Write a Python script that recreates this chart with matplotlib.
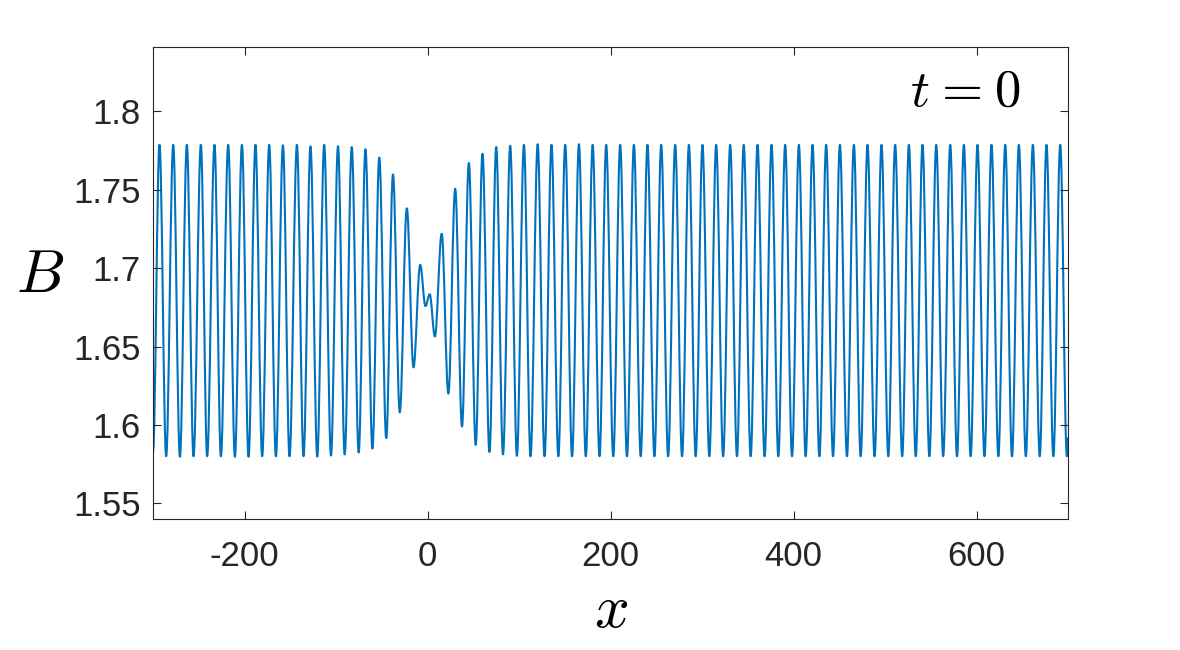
import matplotlib
matplotlib.use("Agg")
import matplotlib.pyplot as plt
from matplotlib.path import Path
from matplotlib.patches import PathPatch
import numpy as np

# ---- data (x, B) ----
x_start, B_start = -300.0, 1.583
x_end, B_end = 700.0, 1.592

x_peaks = [-292.9, -277.9, -263.0, -247.7, -232.8, -217.8, -202.8, -188.0, -173.0,
           -158.0, -142.7, -127.9, -112.9, -97.8, -82.8, -67.8, -52.7, -37.7, -22.6,
           -8.0, 2.4, 15.5, 30.3, 45.2, 60.1, 75.1, 90.4, 105.4, 120.4, 135.5, 150.5,
           165.5, 180.5, 195.3, 210.6, 225.6, 240.4, 255.4, 270.7, 285.7, 300.5, 315.5,
           330.8, 345.6, 360.7, 376.0, 390.9, 405.9, 420.8, 435.7, 450.7, 466.0, 480.9,
           496.2, 511.1, 526.1, 541.0, 556.0, 571.3, 586.2, 601.1, 616.4, 631.4, 646.3,
           661.6, 676.5, 691.5]
B_peaks = [1.7786, 1.7786, 1.7786, 1.7786, 1.7786, 1.7786, 1.7786, 1.7786, 1.7786,
           1.7783, 1.7786, 1.7776, 1.7786, 1.7777, 1.7772, 1.7758, 1.7705, 1.7597, 1.7381,
           1.7021, 1.6833, 1.7219, 1.7506, 1.7670, 1.7729, 1.7772, 1.7780, 1.7786, 1.7790,
           1.7786, 1.7786, 1.7790, 1.7786, 1.7786, 1.7786, 1.7786, 1.7786, 1.7786, 1.7786,
           1.7786, 1.7786, 1.7786, 1.7786, 1.7786, 1.7786, 1.7786, 1.7786, 1.7786, 1.7786,
           1.7786, 1.7786, 1.7786, 1.7786, 1.7786, 1.7786, 1.7786, 1.7786, 1.7786, 1.7786,
           1.7786, 1.7786, 1.7786, 1.7786, 1.7786, 1.7786, 1.7786, 1.7786]

x_troughs = [-285.6, -270.6, -255.7, -240.8, -225.8, -210.5, -195.6, -180.7, -165.7,
             -150.8, -135.5, -120.5, -105.5, -90.5, -75.2, -60.2, -45.1, -30.3, -15.3,
             -2.2, 8.1, 22.8, 37.7, 52.7, 67.7, 82.5, 97.7, 112.6, 127.9, 143.0, 158.0,
             173.0, 188.0, 203.0, 218.0, 233.0, 248.0, 263.0, 278.2, 293.1, 308.0, 323.1,
             338.2, 353.2, 368.4, 383.4, 398.4, 413.3, 428.3, 443.2, 458.4, 473.4, 488.6,
             503.6, 518.8, 533.6, 548.5, 563.6, 578.7, 593.6, 608.7, 623.9, 638.8, 653.9,
             669.1, 684.0, 698.8]
B_troughs = [1.5800, 1.5797, 1.5800, 1.5800, 1.5800, 1.5797, 1.5797, 1.5800, 1.5800,
             1.5800, 1.5800, 1.5798, 1.5805, 1.5812, 1.5824, 1.5849, 1.5916, 1.6080, 1.6367,
             1.6758, 1.6564, 1.6200, 1.5990, 1.5873, 1.5827, 1.5812, 1.5803, 1.5800, 1.5800,
             1.5800, 1.5800, 1.5800, 1.5800, 1.5800, 1.5800, 1.5800, 1.5800, 1.5800, 1.5800,
             1.5800, 1.5800, 1.5800, 1.5800, 1.5800, 1.5800, 1.5800, 1.5800, 1.5800, 1.5800,
             1.5800, 1.5800, 1.5800, 1.5800, 1.5800, 1.5800, 1.5800, 1.5800, 1.5800, 1.5800,
             1.5800, 1.5800, 1.5800, 1.5800, 1.5800, 1.5800, 1.5800, 1.5800]

x_ticks = [-200, 0, 200, 400, 600]
y_ticks = [1.55, 1.6, 1.65, 1.7, 1.75, 1.8]
y_ticklabels = ["1.55", "1.6", "1.65", "1.7", "1.75", "1.8"]

# ---- build series (extrema sorted along x) ----
xs = np.concatenate([[x_start], x_peaks, x_troughs, [x_end]])
Bs = np.concatenate([[B_start], B_peaks, B_troughs, [B_end]])
order = np.argsort(xs)
xs, Bs = xs[order], Bs[order]

# smooth path through the extrema: cubic Bezier segments with flat tangents
verts = [(xs[0], Bs[0])]
codes = [Path.MOVETO]
k = 0.364
for i in range(len(xs) - 1):
    x0, y0, x1, y1 = xs[i], Bs[i], xs[i + 1], Bs[i + 1]
    dx = x1 - x0
    verts += [(x0 + k * dx, y0), (x1 - k * dx, y1), (x1, y1)]
    codes += [Path.CURVE4, Path.CURVE4, Path.CURVE4]
path = Path(verts, codes)

plt.rcParams['mathtext.fontset'] = 'cm'
plt.rcParams['font.family'] = ['Liberation Sans', 'DejaVu Sans']

fig = plt.figure(figsize=(11.8, 6.5), dpi=100)
ax = fig.add_axes([153/1180, 131/650, 915/1180, 472/650])

ax.add_patch(PathPatch(path, facecolor='none', edgecolor='#0072BD', lw=1.5,
                       joinstyle='round', capstyle='butt'))

ax.set_xlim(-300, 700)
ax.set_ylim(1.54, 1.841)
ax.set_xticks(x_ticks)
ax.set_xticklabels([str(v) for v in x_ticks])
ax.set_yticks(y_ticks)
ax.set_yticklabels(y_ticklabels)

dark = '#262626'
ax.tick_params(direction='in', length=6, width=0.8, colors=dark, labelsize=25,
               top=True, right=True, labelcolor=dark)
ax.tick_params(axis='x', pad=15)
ax.tick_params(axis='y', pad=9)
for s in ax.spines.values():
    s.set_color(dark)
    s.set_linewidth(0.8)

fig.text(40/1180, 1 - 277/650, r'$B$', fontsize=44, ha='center', va='center', color='#000000')
fig.text(611/1180, 1 - 612/650, r'$x$', fontsize=44, ha='center', va='center', color='#000000')
fig.text(1020/1180, 1 - 92/650, r'$t\hspace{0.06}=\hspace{0.06}0$', fontsize=38, ha='right',
         va='center', color='#000000')

fig.savefig('out.png', dpi=100)
